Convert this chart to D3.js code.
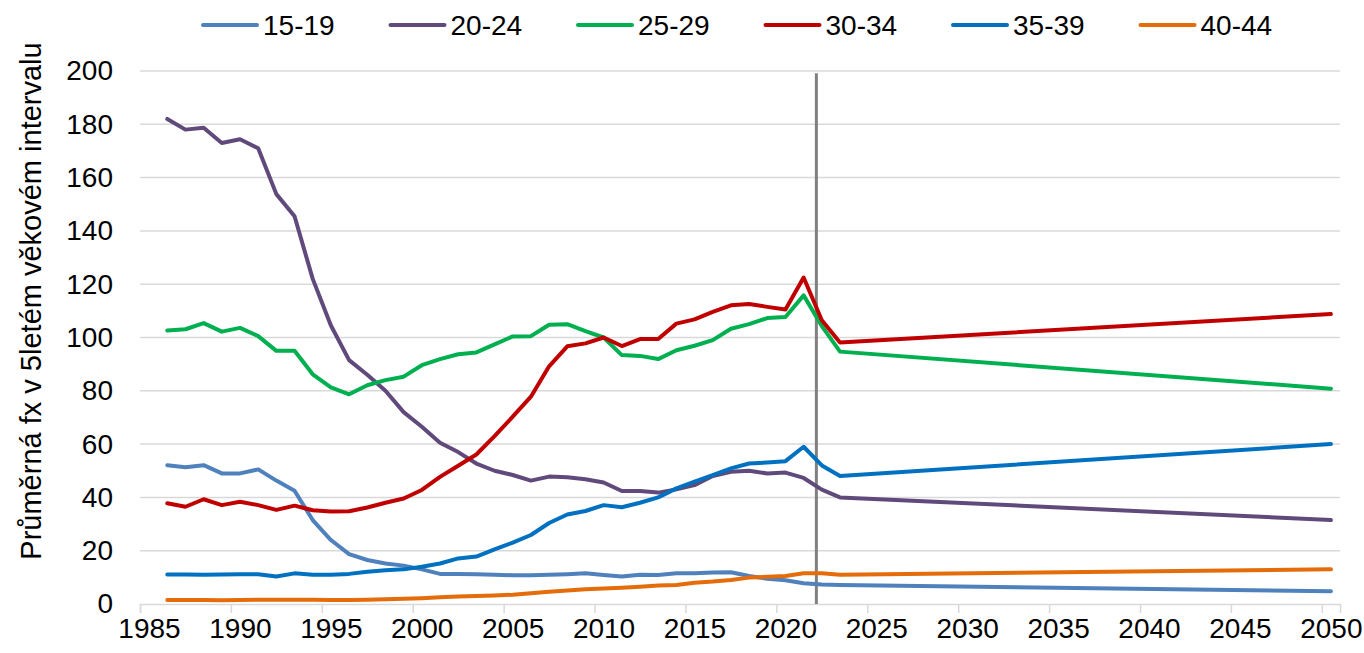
<!DOCTYPE html>
<html>
<head>
<meta charset="utf-8">
<script src="https://cdn.jsdelivr.net/npm/d3@7"></script>
<style>
  body { margin: 0; background: #fff; }
  text { font-family: "Liberation Sans", Arial, sans-serif; fill: #000; }
</style>
</head>
<body>
<div class="chart"></div>
<script>
var svgWidth = 1364;
var svgHeight = 653;

var margin = { top: 71, right: 24, bottom: 49, left: 140 };
var width = svgWidth - margin.left - margin.right;
var height = svgHeight - margin.top - margin.bottom;

// data
var years = [1986, 1987, 1988, 1989, 1990, 1991, 1992, 1993, 1994, 1995,
  1996, 1997, 1998, 1999, 2000, 2001, 2002, 2003, 2004, 2005,
  2006, 2007, 2008, 2009, 2010, 2011, 2012, 2013, 2014, 2015,
  2016, 2017, 2018, 2019, 2020, 2021, 2022, 2023, 2050];

var age1519 = [52.1, 51.3, 52.1, 49, 49, 50.5, 46.3, 42.5, 31.5, 24,
  18.7, 16.5, 15.2, 14.4, 13, 11.3, 11.3, 11.2, 11, 10.8,
  10.8, 11, 11.2, 11.5, 10.9, 10.3, 11, 10.9, 11.5, 11.5,
  11.8, 11.9, 10.5, 9.5, 8.9, 7.8, 7.3, 7.1, 4.8];
var age2024 = [182, 178, 178.7, 173, 174.4, 171, 153.8, 145.5, 122, 104.5,
  91.5, 86, 80, 72, 66.5, 60.5, 57, 52.7, 50, 48.4,
  46.3, 47.8, 47.6, 46.8, 45.6, 42.4, 42.4, 41.8, 43, 44.6,
  48, 49.6, 50, 49, 49.3, 47.3, 42.9, 40, 31.5];
var age2529 = [102.6, 103.1, 105.4, 102.2, 103.6, 100.5, 95, 95, 86.2, 81.3,
  78.7, 82.1, 84, 85.3, 89.6, 91.9, 93.7, 94.4, 97.4, 100.4,
  100.5, 104.8, 105, 102.4, 100, 93.4, 93.1, 91.9, 95.2, 96.9,
  99, 103.3, 105, 107.3, 107.7, 115.8, 104.3, 94.7, 80.8];
var age3034 = [37.8, 36.5, 39.3, 37.1, 38.4, 37.1, 35.3, 36.9, 35.2, 34.7,
  34.8, 36.2, 38, 39.6, 42.8, 47.7, 51.9, 56.1, 63, 70.3,
  77.8, 89.2, 96.7, 97.8, 100, 96.8, 99.4, 99.4, 105.2, 106.8,
  109.6, 112.1, 112.6, 111.5, 110.5, 122.5, 106.5, 98.1, 108.8];
var age3539 = [11.1, 11.1, 11, 11.1, 11.2, 11.2, 10.3, 11.5, 11, 11,
  11.3, 12.1, 12.7, 13, 14, 15.2, 17.1, 17.8, 20.5, 23,
  25.9, 30.4, 33.6, 34.9, 37.1, 36.3, 38, 40, 43.4, 45.9,
  48.4, 50.9, 52.7, 53.1, 53.6, 59, 52, 48, 60];
var age4044 = [1.5, 1.5, 1.5, 1.4, 1.5, 1.6, 1.6, 1.6, 1.6, 1.5,
  1.5, 1.6, 1.8, 2.0, 2.2, 2.5, 2.8, 3.0, 3.2, 3.5,
  4.0, 4.6, 5.1, 5.5, 5.8, 6.1, 6.5, 6.9, 7.1, 8,
  8.4, 9, 9.9, 10.2, 10.5, 11.5, 11.5, 11, 13];

var seriesNames = ["15-19", "20-24", "25-29", "30-34", "35-39", "40-44"];
var seriesValues = [age1519, age2024, age2529, age3034, age3539, age4044];
var seriesColors = ["#4f81bd", "#604a7b", "#00b050", "#c00000", "#0070c0", "#e46c0a"];

var xTicks = [1985, 1990, 1995, 2000, 2005, 2010, 2015, 2020, 2025, 2030, 2035, 2040, 2045, 2050];
var yTicks = [0, 20, 40, 60, 80, 100, 120, 140, 160, 180, 200];
var markerYear = 2022.2;
var yTitle = "Průměrná fx v 5letém věkovém intervalu";

var svg = d3.select(".chart")
  .append("svg")
  .attr("width", svgWidth)
  .attr("height", svgHeight);

var chartGroup = svg.append("g")
  .attr("transform", `translate(${margin.left}, ${margin.top})`);

var xScale = d3.scaleLinear().domain([1985, 2051]).range([0, width]);
var yScale = d3.scaleLinear().domain([0, 200]).range([height, 0]);

// gridlines
chartGroup.append("g")
  .selectAll("line")
  .data(yTicks.filter(d => d > 0))
  .enter()
  .append("line")
  .attr("x1", 0)
  .attr("x2", width)
  .attr("y1", d => yScale(d))
  .attr("y2", d => yScale(d))
  .attr("stroke", "#d9d9d9")
  .attr("stroke-width", 1.5);

// y axis (labels only)
var leftAxis = d3.axisLeft(yScale).tickValues(yTicks).tickSize(0).tickPadding(27);
var yAxis = chartGroup.append("g").call(leftAxis);
yAxis.select(".domain").remove();
yAxis.selectAll("text")
  .style("font-size", "28px")
  .attr("fill", "#000");

// x axis
var bottomAxis = d3.axisBottom(xScale).tickValues(xTicks).tickSize(9).tickPadding(5).tickFormat(d3.format("d"));
var xAxis = chartGroup.append("g")
  .attr("transform", `translate(0, ${height})`)
  .call(bottomAxis);
xAxis.select(".domain").attr("stroke", "#d9d9d9").attr("stroke-width", 1.5);
xAxis.selectAll(".tick line").attr("stroke", "#d9d9d9").attr("stroke-width", 1.5);
xAxis.selectAll("text")
  .style("font-size", "28px")
  .attr("fill", "#000")
  .attr("dx", 9);

// vertical marker
chartGroup.append("line")
  .attr("x1", xScale(markerYear))
  .attr("x2", xScale(markerYear))
  .attr("y1", yScale(199.2))
  .attr("y2", yScale(0))
  .attr("stroke", "#808080")
  .attr("stroke-width", 3);

// lines
var line = d3.line()
  .x((d, i) => xScale(years[i] + 0.5))
  .y(d => yScale(d));

chartGroup.selectAll(".series")
  .data(seriesValues)
  .enter()
  .append("path")
  .attr("class", "series")
  .attr("d", d => line(d))
  .attr("fill", "none")
  .attr("stroke", (d, i) => seriesColors[i])
  .attr("stroke-width", 4)
  .attr("stroke-linejoin", "round")
  .attr("stroke-linecap", "round");

// y axis title
svg.append("text")
  .attr("transform", `translate(41, 301) rotate(-90)`)
  .attr("text-anchor", "middle")
  .style("font-size", "29px")
  .text(yTitle);

// legend
var legend = svg.append("g").attr("transform", "translate(203, 25)");
var items = legend.selectAll("g")
  .data(seriesNames)
  .enter()
  .append("g")
  .attr("transform", (d, i) => `translate(${i * 187.5}, 0)`);

items.append("line")
  .attr("x1", 0)
  .attr("x2", 54)
  .attr("stroke", (d, i) => seriesColors[i])
  .attr("stroke-width", 4)
  .attr("stroke-linecap", "round");

items.append("text")
  .attr("x", 60)
  .attr("dy", "0.35em")
  .style("font-size", "28px")
  .text(d => d);
</script>
</body>
</html>
